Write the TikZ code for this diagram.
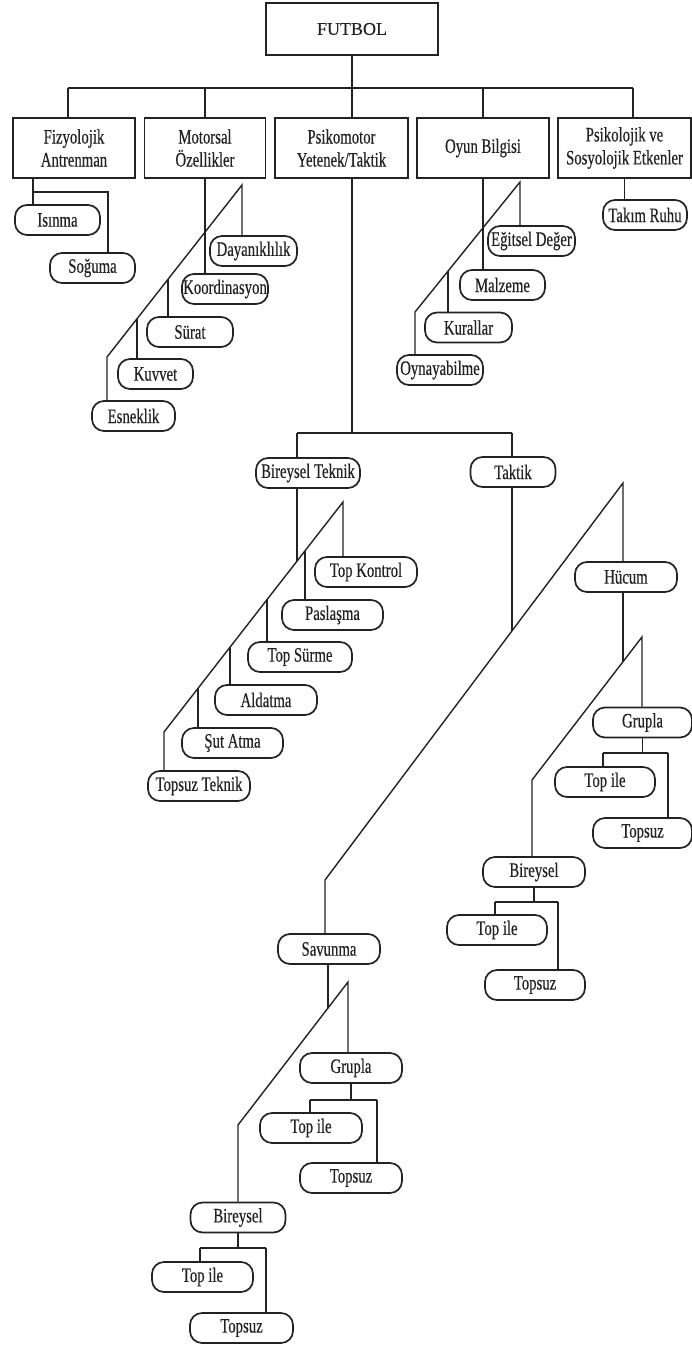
\documentclass[tikz,border=0pt]{standalone}
\usepackage{fontspec}
\setmainfont{Liberation Serif}
\newfontfamily\thinserif[FakeStretch=0.72, FakeBold=0.4]{Liberation Serif}
\newfontfamily\titleserif[FakeBold=0.4]{Liberation Serif}
\definecolor{ink}{HTML}{222222}

\begin{document}
\begin{tikzpicture}[x=1pt, y=-1pt, color=ink, line width=1.4pt,
	cat/.style={draw, line width=1.7pt, minimum height=60, inner sep=2pt, align=center, font=\thinserif\fontsize{20.5}{23}\selectfont},
	leaf/.style={draw, line width=1.7pt, rounded corners=12pt, minimum height=30, inner sep=1pt, font=\thinserif\fontsize{20.5}{23}\selectfont}]
	\useasboundingbox (0,0) rectangle (692,1346);

	\node[cat, minimum width=172, minimum height=52, font=\titleserif\fontsize{18}{20}\selectfont] (futbol) at (352,29) {FUTBOL};
	\node[cat, minimum width=122] (fiz) at (74,148) {Fizyolojik\\Antrenman};
	\node[cat, minimum width=121] (mot) at (205,148) {Motorsal\\Özellikler};
	\node[cat, minimum width=133] (psi) at (341.5,148) {Psikomotor\\Yetenek/Taktik};
	\node[cat, minimum width=132] (oyun) at (483,148) {Oyun Bilgisi};
	\node[cat, minimum width=133] (sos) at (624.5,148) {Psikolojik ve\\Sosyolojik Etkenler};

	\node[leaf, minimum width=85] (isinma) at (57.5,220) {Isınma};
	\node[leaf, minimum width=85] (soguma) at (92.5,268) {Soğuma};
	\node[leaf, minimum width=87] (dayanik) at (253.5,251) {Dayanıklılık};
	\node[leaf, minimum width=86] (koord) at (225,289) {Koordinasyon};
	\node[leaf, minimum width=86] (surat) at (190,332) {Sürat};
	\node[leaf, minimum width=75] (kuvvet) at (155.5,374) {Kuvvet};
	\node[leaf, minimum width=83] (esnek) at (133.5,416) {Esneklik};
	\node[leaf, minimum width=87] (egitsel) at (531.5,241) {Eğitsel Değer};
	\node[leaf, minimum width=85] (malz) at (502.5,285) {Malzeme};
	\node[leaf, minimum width=87] (kural) at (468.5,327.5) {Kurallar};
	\node[leaf, minimum width=86] (oynay) at (440,370) {Oynayabilme};
	\node[leaf, minimum width=84] (takim) at (645,215) {Takım Ruhu};

	\node[leaf, minimum width=104] (bt) at (308,473) {Bireysel Teknik};
	\node[leaf, minimum width=85] (taktik) at (513,472) {Taktik};
	\node[leaf, minimum width=102] (topk) at (366,572) {Top Kontrol};
	\node[leaf, minimum width=101] (pas) at (332.5,615) {Paslaşma};
	\node[leaf, minimum width=104] (topsur) at (300,657) {Top Sürme};
	\node[leaf, minimum width=102] (aldat) at (266,700) {Aldatma};
	\node[leaf, minimum width=101] (sut) at (232.5,743) {Şut Atma};
	\node[leaf, minimum width=102] (topsuzt) at (199,786) {Topsuz Teknik};

	\node[leaf, minimum width=102] (hucum) at (626,577) {Hücum};
	\node[leaf, minimum width=99] (grupH) at (642.5,722.5) {Grupla};
	\node[leaf, minimum width=100] (topileH) at (605,782) {Top ile};
	\node[leaf, minimum width=99] (topsuzH) at (642.5,833) {Topsuz};
	\node[leaf, minimum width=102] (birH) at (534,872) {Bireysel};
	\node[leaf, minimum width=100] (topileHb) at (497,930) {Top ile};
	\node[leaf, minimum width=100] (topsuzHb) at (535,985) {Topsuz};

	\node[leaf, minimum width=102] (sav) at (329,949) {Savunma};
	\node[leaf, minimum width=102] (grupS) at (351,1068) {Grupla};
	\node[leaf, minimum width=102] (topileS) at (311,1128) {Top ile};
	\node[leaf, minimum width=102] (topsuzS) at (351,1178) {Topsuz};
	\node[leaf, minimum width=95] (birS) at (238,1217.5) {Bireysel};
	\node[leaf, minimum width=101] (topileSb) at (202.5,1277) {Top ile};
	\node[leaf, minimum width=103] (topsuzSb) at (241.5,1328) {Topsuz};

	\coordinate (b1) at (68,88);
	\coordinate (b5) at (633,88);
	\coordinate (f1) at (33,192);
	\coordinate (f2) at (108,192);
	\coordinate (m1) at (242,185);
	\coordinate (m2) at (168,279);
	\coordinate (m3) at (137,319);
	\coordinate (m4) at (107,357);
	\coordinate (o1) at (520,182);
	\coordinate (o2) at (448,271);
	\coordinate (o3) at (415,312);
	\coordinate (p0) at (297,433);
	\coordinate (p1) at (352,433);
	\coordinate (p2) at (512,433);
	\coordinate (t0) at (297,561);
	\coordinate (t1) at (343,502);
	\coordinate (t2) at (305,551);
	\coordinate (t3) at (267,600);
	\coordinate (t4) at (230,647);
	\coordinate (t5) at (198,688);
	\coordinate (t6) at (164,732);
	\coordinate (k0) at (512,631);
	\coordinate (k1) at (623,483);
	\coordinate (k2) at (325,880);
	\coordinate (h0) at (623,662);
	\coordinate (h1) at (642,637);
	\coordinate (h2) at (532,780);
	\coordinate (g1) at (603,753);
	\coordinate (g2) at (668,753);
	\coordinate (c1) at (495,902);
	\coordinate (c2) at (558,902);
	\coordinate (s0) at (328,1008);
	\coordinate (s1) at (348,982);
	\coordinate (s2) at (238,1125);
	\coordinate (d1) at (310,1100);
	\coordinate (d2) at (377,1100);
	\coordinate (e1) at (200,1248);
	\coordinate (e2) at (266,1248);

	\draw  (b1) -- (b5);
	\draw  (futbol.south) -- (futbol.south |- psi.north);
	\draw  (b1) -- (b1 |- fiz.north);
	\draw  (mot.north) -- (mot.north |- b1);
	\draw  (oyun.north) -- (oyun.north |- b1);
	\draw  (b5) -- (b5 |- sos.north);

	\draw  (f1 |- fiz.south) -- (f1 |- isinma.north);
	\draw  (f1) -- (f2) -- (f2 |- soguma.north);

	\draw  (mot.south) -- (mot.south |- koord.north);
	\draw  (dayanik.north -| m1) -- (m1) -- (m4) -- (m4 |- esnek.north);
	\draw  (m2) -- (m2 |- surat.north);
	\draw  (m3) -- (m3 |- kuvvet.north);

	\draw  (oyun.south) -- (oyun.south |- malz.north);
	\draw  (egitsel.north -| o1) -- (o1) -- (o3) -- (o3 |- oynay.north);
	\draw  (o2) -- (o2 |- kural.north);

	\draw  (sos.south) -- (sos.south |- takim.north);

	\draw  (p1 |- psi.south) -- (p1);
	\draw  (p0) -- (p2);
	\draw  (p0) -- (p0 |- bt.north);
	\draw  (p2) -- (p2 |- taktik.north);

	\draw  (t0 |- bt.south) -- (t0);
	\draw  (topk.north -| t1) -- (t1) -- (t6) -- (t6 |- topsuzt.north);
	\draw  (t2) -- (t2 |- pas.north);
	\draw  (t3) -- (t3 |- topsur.north);
	\draw  (t4) -- (t4 |- aldat.north);
	\draw  (t5) -- (t5 |- sut.north);

	\draw  (k0 |- taktik.south) -- (k0);
	\draw  (hucum.north -| k1) -- (k1) -- (k2) -- (k2 |- sav.north);

	\draw  (h0 |- hucum.south) -- (h0);
	\draw  (grupH.north -| h1) -- (h1) -- (h2) -- (h2 |- birH.north);
	\draw  (grupH.south) -- (grupH.south |- g1);
	\draw  (g1) -- (g2);
	\draw  (g1) -- (g1 |- topileH.north);
	\draw  (g2) -- (g2 |- topsuzH.north);
	\draw  (birH.south) -- (birH.south |- c1);
	\draw  (c1) -- (c2);
	\draw  (c1) -- (c1 |- topileHb.north);
	\draw  (c2) -- (c2 |- topsuzHb.north);

	\draw  (s0 |- sav.south) -- (s0);
	\draw  (grupS.north -| s1) -- (s1) -- (s2) -- (s2 |- birS.north);
	\draw  (grupS.south) -- (grupS.south |- d1);
	\draw  (d1) -- (d2);
	\draw  (d1) -- (d1 |- topileS.north);
	\draw  (d2) -- (d2 |- topsuzS.north);
	\draw  (birS.south) -- (birS.south |- e1);
	\draw  (e1) -- (e2);
	\draw  (e1) -- (e1 |- topileSb.north);
	\draw  (e2) -- (e2 |- topsuzSb.north);
\end{tikzpicture}
\end{document}
